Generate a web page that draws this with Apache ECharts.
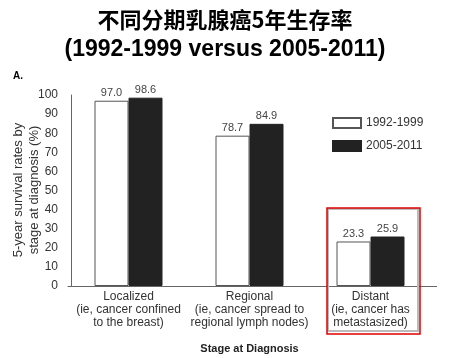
<!DOCTYPE html>
<html><head><meta charset="utf-8">
<script src="https://cdn.jsdelivr.net/npm/echarts@6/dist/echarts.min.js"></script>
<style>html,body{margin:0;padding:0;background:#fff}#c{width:450px;height:358px}</style>
</head><body><div id="c"></div>
<script>
var categories = ['Localized\n(ie, cancer confined\nto the breast)', 'Regional\n(ie, cancer spread to\nregional lymph nodes)', 'Distant\n(ie, cancer has\nmetastasized)'];
var series1992 = [97.0, 78.7, 23.3];
var series2005 = [98.6, 84.9, 25.9];
var yTicks = [0, 10, 20, 30, 40, 50, 60, 70, 80, 90, 100];
var yTitle = '5-year survival rates by\nstage at diagnosis (%)';

var chart = echarts.init(document.getElementById('c'), null, {renderer: 'canvas'});
var F = 'Liberation Sans, Arial, sans-serif';
chart.setOption({
  animation: false,
  title: [{
    text: '不同分期乳腺癌5年生存率',
    left: 'center', top: 4,
    textStyle: {fontFamily: 'Noto Sans CJK SC', fontWeight: 'bold', fontSize: 22, color: '#000'}
  }, {
    text: '(1992-1999 versus 2005-2011)',
    left: 'center', top: 33,
    textStyle: {fontFamily: F, fontWeight: 'bold', fontSize: 23, color: '#000'}
  }, {
    text: 'A.',
    left: 8, top: 66,
    textStyle: {fontFamily: F, fontWeight: 'bold', fontSize: 10, color: '#000'}
  }],
  legend: {
    orient: 'vertical', left: 327, top: 112,
    icon: 'rect',
    itemWidth: 28, itemHeight: 10, itemGap: 11,
    textStyle: {fontFamily: F, fontSize: 12, color: '#333'},
    data: ['1992-1999', '2005-2011']
  },
  grid: {left: 68, right: 19, top: 95, bottom: 72, containLabel: false, outerBoundsMode: 'none'},
  xAxis: {
    type: 'category', data: categories,
    axisTick: {show: false},
    axisLine: {lineStyle: {color: '#666', width: 1}},
    axisLabel: {interval: 0, fontFamily: F, fontSize: 12, color: '#333', lineHeight: 13, margin: 4},
    name: 'Stage at Diagnosis', nameLocation: 'middle', nameGap: 57,
    nameTextStyle: {fontFamily: F, fontWeight: 'bold', fontSize: 11, color: '#222'}
  },
  yAxis: {
    type: 'value', min: 0, max: 100, interval: 10, offset: -3,
    splitLine: {show: false},
    axisTick: {show: false},
    axisLine: {show: true, lineStyle: {color: '#666', width: 1}},
    axisLabel: {fontFamily: F, fontSize: 12, color: '#333', margin: 13,
      formatter: function (v) { return yTicks.indexOf(v) >= 0 ? String(v) : ''; }}
  },
  series: [{
    name: '1992-1999', type: 'bar', data: series1992,
    barWidth: 34, barGap: '0%',
    itemStyle: {color: '#fff', borderColor: '#555', borderWidth: 1},
    label: {show: true, position: 'top', distance: 2, fontFamily: F, fontSize: 11, color: '#444',
      formatter: function (p) { return p.value.toFixed(1); }}
  }, {
    name: '2005-2011', type: 'bar', data: series2005,
    barWidth: 34,
    itemStyle: {color: '#222', borderColor: '#222', borderWidth: 1},
    label: {show: true, position: 'top', distance: 2, fontFamily: F, fontSize: 11, color: '#444',
      formatter: function (p) { return p.value.toFixed(1); }}
  }],
  graphic: [{
    type: 'text', x: 26, y: 190, rotation: Math.PI / 2,
    style: {text: yTitle, fontFamily: F, fontSize: 13, fill: '#333', lineHeight: 16,
      align: 'center', verticalAlign: 'middle'}
  }, {
    type: 'line', shape: {x1: 430, y1: 286.5, x2: 437, y2: 286.5},
    style: {stroke: '#666', lineWidth: 1}
  }, {
    type: 'rect', shape: {x: 328, y: 209, width: 90, height: 122},
    style: {fill: 'none', stroke: '#bbb', lineWidth: 2}, z: 100
  }, {
    type: 'rect', shape: {x: 327, y: 208, width: 93, height: 126},
    style: {fill: 'none', stroke: '#e00000', lineWidth: 1.5}, z: 101
  }]
});
</script></body></html>
